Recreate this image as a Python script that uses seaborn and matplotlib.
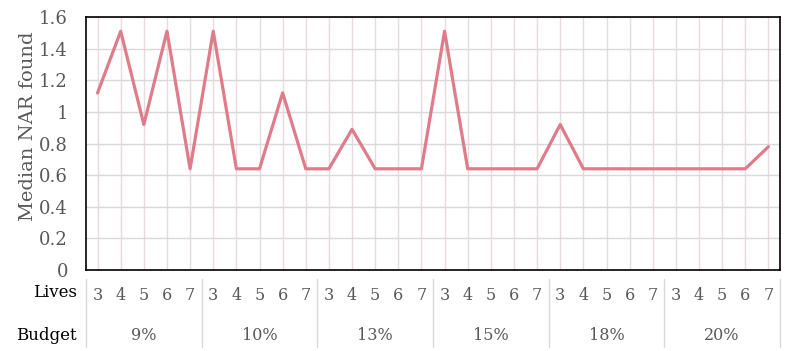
import pandas as pd
import numpy as np
import seaborn as sns
import matplotlib.pyplot as plt
import matplotlib.transforms as mtransforms

budgets = ['9%', '10%', '13%', '15%', '18%', '20%']
lives = [3, 4, 5, 6, 7]
median_nar = [
    1.12, 1.51, 0.92, 1.51, 0.64,   # 9%
    1.51, 0.64, 0.64, 1.12, 0.64,   # 10%
    0.64, 0.89, 0.64, 0.64, 0.64,   # 13%
    1.51, 0.64, 0.64, 0.64, 0.64,   # 15%
    0.92, 0.64, 0.64, 0.64, 0.64,   # 18%
    0.64, 0.64, 0.64, 0.64, 0.78,   # 20%
]

df = pd.DataFrame({
    'budget': np.repeat(budgets, len(lives)),
    'lives': lives * len(budgets),
    'nar': median_nar,
})
df['pos'] = np.arange(len(df))

sns.set_style('white')
plt.rcParams['font.family'] = ['DejaVu Serif']

fig = plt.figure(figsize=(7.94, 3.51), dpi=100)
ax = fig.add_axes([86 / 794, 1 - 270 / 351, (780 - 86) / 794, (270 - 17) / 351])

sns.lineplot(data=df, x='pos', y='nar', ax=ax, color='#E07B8A', linewidth=2.3)

ax.set_xlim(-0.5, len(df) - 0.5)
ax.set_ylim(0, 1.6)
ax.set_yticks(np.arange(0, 1.61, 0.2))
ax.set_yticklabels(['0', '0.2', '0.4', '0.6', '0.8', '1', '1.2', '1.4', '1.6'],
                   fontsize=13, color='#595959')
ax.set_xticks(df['pos'])
ax.set_xticklabels(df['lives'], fontsize=11.5, color='#595959')
ax.tick_params(axis='both', length=0)
ax.tick_params(axis='x', pad=12)
ax.tick_params(axis='y', pad=13)

ax.grid(axis='y', color='#d9d9d9', linewidth=1)
ax.grid(axis='x', color='#ead9dd', linewidth=1)
ax.set_axisbelow(True)
for s in ax.spines.values():
    s.set_color('black')
    s.set_linewidth(1.2)

ax.set_xlabel('')
ax.set_ylabel('Median NAR found', fontsize=14, color='#595959')
ax.yaxis.set_label_coords(-0.0706, 0.567)

# category table under the axis
trans = mtransforms.blended_transform_factory(ax.transData, ax.transAxes)
n = len(lives)
for i in range(len(budgets) + 1):
    ax.plot([i * n - 0.5, i * n - 0.5], [-0.035, -0.305], transform=trans,
            color='#d9d9d9', linewidth=1, clip_on=False)
for i, b in enumerate(budgets):
    ax.text(i * n + (n - 1) / 2, -0.26, b, transform=trans, ha='center',
            va='center', fontsize=11.5, color='#595959')
ax.text(-0.013, -0.09, 'Lives', transform=ax.transAxes, ha='right',
        va='center', fontsize=12, color='black')
ax.text(-0.013, -0.26, 'Budget', transform=ax.transAxes, ha='right',
        va='center', fontsize=12, color='black')

plt.savefig('out.png', dpi=100)
